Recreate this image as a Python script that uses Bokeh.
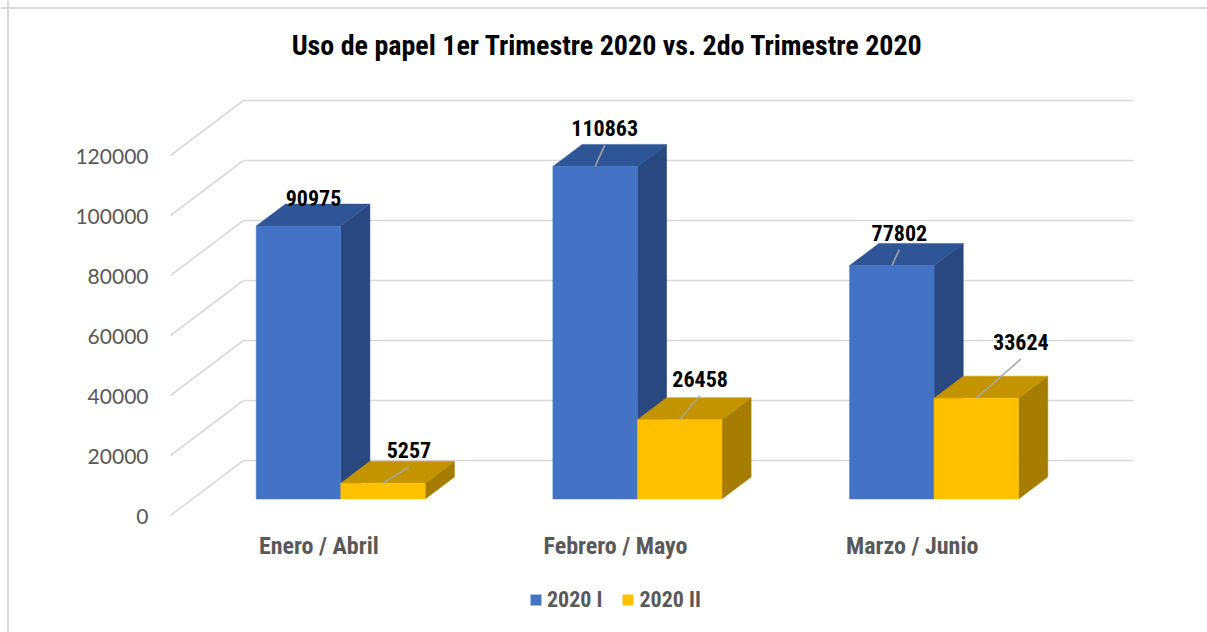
from bokeh.plotting import figure
from bokeh.models import ColumnDataSource, Range1d, Span, Legend, LegendItem, Label
from bokeh.core.properties import value
from bokeh.embed import file_html
from bokeh.resources import INLINE

# ---------------- data ----------------
title_text = "Uso de papel 1er Trimestre 2020 vs. 2do Trimestre 2020"
categories = ["Enero / Abril", "Febrero / Mayo", "Marzo / Junio"]
series_names = ["2020 I", "2020 II"]
values_2020_I = [90975, 110863, 77802]
values_2020_II = [5257, 26458, 33624]
y_ticks = [0, 20000, 40000, 60000, 80000, 100000, 120000]

# ---------------- layout / style ----------------
W, H = 1207, 632
PX_CAT = 296.67          # px per category on the front plane
PX_VAL = 0.003           # px per value unit
X0_PX = 170              # front-plane left edge, px from frame left
Y0_PX = 117              # front-plane floor, px above frame bottom
DEPTH_PX = (73, 55)      # 3D depth offset (right, up)
DX = DEPTH_PX[0] / PX_CAT
DY = DEPTH_PX[1] / PX_VAL
D0, D1 = 0.3, 0.7        # bar depth span (fraction of floor depth)
BW = 84.5 / PX_CAT       # bar width in category units

# label offsets (px) relative to bar front-top centre, and leader visibility
lab_dx = [[15, 9.5, 7.5], [26, 20.5, 44.5]]
lab_dy = [[-28, -38, -33], [-33, -41, -56]]
show_leader = [[False, True, True], [True, True, True]]

colors = {
    "front": ["#4472C4", "#FFC000"],
    "top": ["#2F5597", "#C49400"],
    "side": ["#2A4880", "#A67D00"],
}
GRID = "#D9D9D9"
GRAY_TXT = "#595959"
COND = "Roboto Condensed"

p = figure(width=W, height=H,
           x_range=Range1d(-X0_PX / PX_CAT, (W - X0_PX) / PX_CAT),
           y_range=Range1d(-Y0_PX / PX_VAL, (H - Y0_PX) / PX_VAL),
           output_backend="svg", toolbar_location=None,
           x_axis_location=None, y_axis_location=None,
           min_border=0, outline_line_color=None,
           background_fill_color="white", border_fill_color="white")
p.grid.visible = False

# outer chart border (top and left edges)
p.add_layout(Span(location=p.x_range.start + 7.5 / PX_CAT, dimension="height",
                  line_color=GRID, line_width=2))
p.add_layout(Span(location=p.y_range.end - 7.5 / PX_VAL, dimension="width",
                  line_color=GRID, line_width=2))

n = len(categories)
# back wall gridlines and side wall lines
p.multi_line(xs=[[DX, n + DX] for t in y_ticks], ys=[[t + DY, t + DY] for t in y_ticks],
             line_color=GRID, line_width=1.6)
p.multi_line(xs=[[0, DX] for t in y_ticks], ys=[[t, t + DY] for t in y_ticks],
             line_color=GRID, line_width=1.6)

# value axis labels
p.text(x=[0] * len(y_ticks), y=y_ticks, text=[str(t) for t in y_ticks],
       x_offset=-22, y_offset=1, text_align="right", text_baseline="middle",
       text_font=value("Lato"), text_font_size="21px", text_color=GRAY_TXT)

# category labels on the front plane
p.text(x=[i + 0.5 for i in range(n)], y=[0] * n, text=categories,
       y_offset=30, text_align="center", text_baseline="middle",
       text_font=value(COND), text_font_style="bold", text_font_size="24px",
       text_color=GRAY_TXT)

all_values = [values_2020_I, values_2020_II]
front_renderers = []
label_x, label_y, label_t, label_ox, label_oy = [], [], [], [], []
lead_x0, lead_y0, lead_x1, lead_y1 = [], [], [], []

for s, vals in enumerate(all_values):
    fx, fy, tx, ty, sx, sy = [], [], [], [], [], []
    for i, v in enumerate(vals):
        x0 = i + 0.5 - BW + s * BW
        x1 = x0 + BW
        a0x, a0y = D0 * DX, D0 * DY
        a1x, a1y = D1 * DX, D1 * DY
        fx.append([x0 + a0x, x1 + a0x, x1 + a0x, x0 + a0x])
        fy.append([a0y, a0y, v + a0y, v + a0y])
        tx.append([x0 + a0x, x0 + a1x, x1 + a1x, x1 + a0x])
        ty.append([v + a0y, v + a1y, v + a1y, v + a0y])
        sx.append([x1 + a0x, x1 + a1x, x1 + a1x, x1 + a0x])
        sy.append([a0y, a1y, v + a1y, v + a0y])
        cx, cy = (x0 + x1) / 2 + a0x, v + a0y
        label_x.append(cx)
        label_y.append(cy)
        label_t.append(str(v))
        label_ox.append(lab_dx[s][i])
        label_oy.append(lab_dy[s][i])
        if show_leader[s][i]:
            lead_x0.append(cx)
            lead_y0.append(cy)
            lead_x1.append(cx + lab_dx[s][i] / PX_CAT)
            lead_y1.append(cy - (lab_dy[s][i] + 17) / PX_VAL)
    p.patches(xs=sx, ys=sy, fill_color=colors["side"][s], line_color=colors["side"][s], line_width=0.5)
    p.patches(xs=tx, ys=ty, fill_color=colors["top"][s], line_color=colors["top"][s], line_width=0.5)
    r = p.patches(xs=fx, ys=fy, fill_color=colors["front"][s], line_color=colors["front"][s], line_width=0.5)
    front_renderers.append(r)

# leader lines and data labels
p.segment(x0=lead_x0, y0=lead_y0, x1=lead_x1, y1=lead_y1, line_color="#A6A6A6", line_width=1.5)

lab_src = ColumnDataSource(dict(x=label_x, y=label_y, t=label_t, ox=label_ox, oy=label_oy))
p.text(x="x", y="y", text="t", x_offset="ox", y_offset="oy", source=lab_src,
       text_align="center", text_baseline="middle",
       text_font=value(COND), text_font_style="bold", text_font_size="22px", text_color="black")

# title
p.add_layout(Label(x=607, y=H - 45, x_units="screen", y_units="screen", text=title_text,
                   text_align="center", text_baseline="middle",
                   text_font=COND, text_font_style="bold", text_font_size="28px",
                   text_color="black"))

legend = Legend(items=[LegendItem(label=series_names[k], renderers=[front_renderers[k]])
                       for k in range(2)],
                location=(529, 20), orientation="horizontal",
                border_line_color=None, background_fill_alpha=0,
                padding=0, margin=0, spacing=19, label_standoff=5,
                glyph_width=13, glyph_height=13,
                label_text_font=COND, label_text_font_style="bold",
                label_text_font_size="22px", label_text_color=GRAY_TXT)
p.add_layout(legend)

open("out.html", "w").write(file_html(p, INLINE))
